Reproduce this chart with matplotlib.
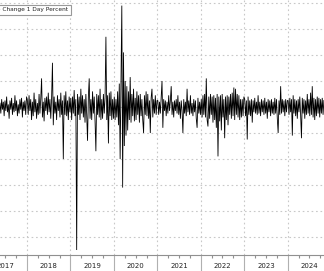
import matplotlib
matplotlib.use("Agg")
import matplotlib.pyplot as plt
import matplotlib.dates as mdates
import matplotlib.transforms as mtransforms
from matplotlib import font_manager
import pandas as pd

# ---- data: weekly representative 1-day % changes ----
v2017 = [0.15,-0.25,0.3,-0.1,0.2,-0.35,0.25,-0.15,0.4,-0.2,0.1,-0.45,0.25,-0.1,0.35,-0.3,0.15,
         -0.2,0.45,-0.15,0.25,-0.35,0.1,-0.25,0.3,-0.1,0.35,-0.4,0.2,-0.15,0.25,-0.3,0.4]
v2018 = [0.25,-0.3,0.45,-0.15,0.3,-0.5,0.2,-0.35,0.55,-0.2,0.3,-0.45,0.15,-0.3,0.5,-0.25,0.3,1.1,
         -0.4,0.2,-0.55,0.35,-0.15,0.4,-0.3,0.55,-0.2,0.3,-0.45,0.35,1.7,-0.7,0.4,-0.25,0.2,-0.5,
         0.45,-0.15,0.3,-0.4,0.55,-0.3,0.25,-2.0,0.45,-0.3,0.6,-0.35,0.25,-0.5,0.4,-0.2]
v2019 = [0.35,-0.5,0.4,-0.25,0.65,-0.35,0.3,-5.5,0.5,-0.3,0.4,-0.5,0.7,-0.25,0.45,-0.4,0.3,-0.6,
         0.5,-0.3,-1.3,0.4,1.1,-0.45,0.3,-0.5,0.6,-0.25,0.4,-0.55,-1.7,0.5,-0.3,0.45,-0.4,0.7,
         -0.5,0.3,-0.45,0.5,-0.25,0.4,2.7,-0.5,0.45,-1.4,0.55,-0.35,0.6,-0.5,0.3,-0.45]
v2020 = [0.4,-0.5,0.3,-0.4,0.6,-0.7,0.9,-2.0,1.0,3.9,-3.1,2.1,-1.5,1.0,-1.1,0.8,-0.9,0.6,
         -0.5,1.15,-0.6,0.5,-0.35,0.7,-0.55,0.35,-0.5,0.6,-0.3,0.45,-0.6,0.5,-0.35,0.3,-0.5,-1.0,
         0.45,-0.3,0.6,-0.35,0.5,-0.45,0.25,-1.0,0.35,0.7,-0.4,0.3,-0.25,0.45,-0.3,0.25]
v2021 = [0.25,-0.3,0.2,-0.25,0.35,1.0,-0.8,0.3,-0.15,0.25,-0.35,0.2,-0.25,0.45,-0.15,0.25,0.8,
         -0.3,0.2,-0.4,0.25,-0.15,0.3,-0.25,0.45,-0.3,0.2,-0.45,0.25,-0.15,-1.0,0.3,-0.25,0.2,-0.35,
         0.7,-0.2,0.25,-0.3,0.45,-0.25,0.15,-0.35,0.3,-0.2,0.25,-0.45,-0.8,0.35,-0.25,0.2,-0.3]
v2022 = [0.3,-0.4,0.45,-0.3,0.5,-0.4,1.1,-0.5,-0.75,0.4,-0.45,0.5,-0.3,0.4,-0.6,0.45,-0.5,
         0.35,-0.8,0.5,-1.9,0.4,-0.55,0.45,-0.9,0.5,-0.4,0.3,-1.2,0.4,-0.5,0.45,-0.7,0.4,-0.3,
         0.5,-0.45,0.55,-0.35,0.75,-0.5,0.7,-0.3,0.5,-0.4,0.45,-0.5,0.3,-0.4,0.3,-0.35,0.4]
v2023 = [0.3,-0.35,0.25,-1.25,0.4,-0.3,0.25,-0.35,0.3,-0.6,0.25,-0.2,0.35,-0.25,0.2,-0.3,0.45,
         -0.25,0.2,-0.35,0.3,-0.2,0.25,-0.3,0.35,-0.25,0.2,-0.45,0.3,-0.2,0.25,-0.35,0.3,-0.25,
         0.2,-0.3,0.35,-0.25,0.3,-0.45,-1.0,0.25,-0.3,0.8,-0.25,0.3,-0.2,0.25,-0.35,0.3,-0.2,0.25]
v2024 = [0.25,-0.3,0.35,-0.2,0.3,-1.1,0.45,-0.25,0.3,-0.35,0.25,-0.45,0.3,-0.2,0.4,-0.3,-1.2,
         0.35,-0.25,0.3,-0.45,0.25,-0.3,0.5,-0.25,0.3,-0.35,0.55,-0.3,0.8,-0.4,0.35,-0.5,0.3,
         -0.35,0.4,-0.25,0.35,-0.4,0.3,-0.25,0.35,-0.3,0.25]

years = [2017, 2018, 2019, 2020, 2021, 2022, 2023, 2024]
series_by_year = [v2017, v2018, v2019, v2020, v2021, v2022, v2023, v2024]
legend_label = "Price Change 1 Day Percent"

# build dates per year
dates, values = [], []
for yr, vals in zip(years, series_by_year):
    start = "2017-05-19" if yr == 2017 else f"{yr}-01-04"
    end = "2024-10-30" if yr == 2024 else f"{yr}-12-28"
    dates.extend(pd.date_range(start, end, periods=len(vals)))
    values.extend(vals)

avail = {f.name for f in font_manager.fontManager.ttflist}
fam = "Liberation Sans Narrow" if "Liberation Sans Narrow" in avail else "DejaVu Sans"

W, H = 324, 271
fig = plt.figure(figsize=(W/100, H/100), dpi=100)
ax = fig.add_axes([0, 16/H, 1, 1 - 16/H])

ax.plot(dates, values, color="black", lw=0.6, solid_joinstyle="miter")

ax.set_xlim(pd.Timestamp("2017-05-19"), pd.Timestamp("2024-10-31"))
ax.set_ylim(-(255-107)/26, 107/26)

ax.set_yticks(range(-5, 5))
ax.xaxis.set_major_locator(mdates.YearLocator())
ax.xaxis.set_minor_locator(mdates.MonthLocator([1, 4, 7, 10]))
ax.xaxis.set_major_formatter(plt.NullFormatter())
ax.tick_params(axis="y", left=False, right=False, labelleft=False)
ax.tick_params(axis="x", which="major", length=17, width=0.8, color="#b0b0b0", direction="out")
ax.tick_params(axis="x", which="minor", length=2, width=0.8, color="#909090", direction="out")

ax.grid(True, which="major", axis="both", color="#c8c8c8", lw=0.8, linestyle=(0, (1.5, 2.5)))
ax.set_axisbelow(True)
for s in ["top", "left", "right"]:
    ax.spines[s].set_visible(False)
ax.spines["bottom"].set_color("#909090")
ax.spines["bottom"].set_linewidth(0.8)

trans = mtransforms.blended_transform_factory(ax.transData, fig.transFigure)
for yr in years:
    ax.text(pd.Timestamp(f"{yr}-07-01"), 1 - 266/H, str(yr), transform=trans,
            ha="center", va="center", fontsize=5.0, family=fam, color="#222222", clip_on=False)

fig.text(68/W, 1 - 10/H, legend_label, ha="right", va="center", fontsize=4.2, family=fam,
         color="#222222",
         bbox=dict(boxstyle="square,pad=0.5", fc="white", ec="#999999", lw=0.8))

fig.savefig("out.png", dpi=100)
